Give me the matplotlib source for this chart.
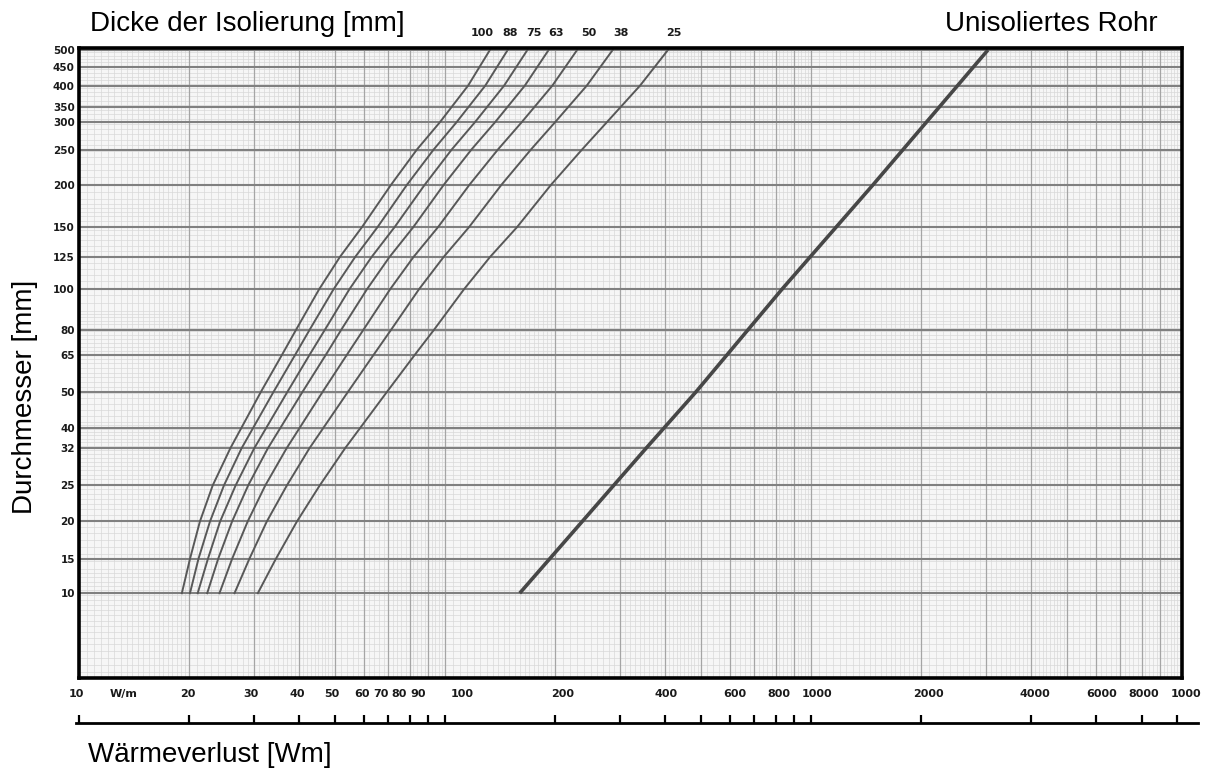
import numpy as np
import matplotlib
matplotlib.use("Agg")
import matplotlib.pyplot as plt
import matplotlib.transforms as mtransforms

# ---------------- data ----------------
# nominal diameters (labels) and their outer diameters in mm (axis positions)
dn_labels = ['10', '15', '20', '25', '32', '40', '50', '65', '80', '100', '125',
             '150', '200', '250', '300', '350', '400', '450', '500']
dn_outer_diam = [17.2, 21.3, 26.9, 33.7, 42.4, 48.3, 60.3, 76.1, 88.9, 114.3, 139.7,
                 168.3, 219.1, 273.0, 323.9, 355.6, 406.4, 457.0, 508.0]

# outer diameters at which the curves were read
curve_od = [17.2, 21.3, 26.9, 33.7, 42.4, 60.3, 76.1, 88.9, 114.3, 139.7, 168.3,
            219.1, 273.0, 323.9, 406.4, 508.0]

thickness_labels = ['100', '88', '75', '63', '50', '38', '25']
loss_t100 = [19.1, 20.1, 21.4, 23.2, 25.9, 31.4, 35.9, 39.2, 45.3, 51.6, 59.3,
             71.2, 83.8, 96.9, 115.6, 132.7]
loss_t88 = [20.1, 21.2, 22.8, 24.9, 27.8, 34.0, 39.0, 42.7, 49.6, 56.8, 65.4,
            78.7, 93.1, 107.6, 128.8, 148.4]
loss_t75 = [21.1, 22.5, 24.3, 26.8, 30.1, 37.1, 42.7, 47.0, 54.8, 63.0, 72.8,
            88.0, 104.3, 120.8, 145.0, 168.0]
loss_t63 = [22.4, 24.0, 26.2, 29.0, 32.8, 40.8, 47.3, 52.1, 61.2, 70.5, 81.9,
            99.2, 118.1, 137.1, 165.2, 192.0]
loss_t50 = [24.2, 26.2, 28.9, 32.3, 36.9, 46.3, 54.0, 59.9, 70.8, 82.0, 95.7,
            116.6, 139.5, 162.1, 196.4, 229.7]
loss_t38 = [26.6, 29.2, 32.6, 37.0, 42.6, 54.3, 63.9, 71.3, 84.9, 99.1, 116.3,
            142.6, 171.7, 200.0, 243.9, 287.3]
loss_t25 = [30.8, 34.5, 39.4, 45.5, 53.3, 69.4, 82.8, 93.4, 112.7, 132.7, 157.3,
            194.8, 236.8, 277.0, 341.0, 406.8]

uninsulated_od = [17.2, 42.4, 60.3, 114.3, 219.1, 508.0]
loss_uninsulated = [160, 354, 485, 833, 1477, 3045]

x_tick_values = [10, 20, 30, 40, 50, 60, 70, 80, 90, 100, 200, 400, 600, 800,
                 1000, 2000, 4000, 6000, 8000, 10000]
x_tick_labels = ['10', '20', '30', '40', '50', '60', '70', '80', '90', '100', '200',
                 '400', '600', '800', '1000', '2000', '4000', '6000', '8000', '1000']
ruler_ticks = [10, 20, 30, 40, 50, 60, 70, 80, 90, 100, 200, 300, 400, 500, 600,
               700, 800, 900, 1000, 2000, 4000, 6000, 8000, 10000]

# ---------------- styling (pixel nudges of hand-placed labels) ----------------
xlabel_nudge_px = [-3, -1, -3, -2, -3, -2, -7, -10, -10, 17, 7, 1, 5, 3, 6, 7, 4, 6, 2, 9]
thick_label_nudge_px = [-8, 2, 6, 7, 12, 8, 6]

# ---------------- figure ----------------
W, H = 1213, 771
fig = plt.figure(figsize=(W / 100, H / 100), dpi=100)
fig.patch.set_facecolor('white')

def fx(px):
    return px / W

def fy(py):
    return 1 - py / H

def px_shift(dx):
    return mtransforms.ScaledTranslation(dx / 100.0, 0, fig.dpi_scale_trans)

ax = fig.add_axes([fx(79), fy(678), fx(1182 - 79), (678 - 48) / H])
ax.set_xscale('log')
ax.set_yscale('log')
ax.set_xlim(10, 10320)
ax.set_ylim(10.14, 514)
ax.set_facecolor('#f6f6f6')

# graph-paper grid
sub = np.concatenate([np.arange(1, 2, 0.05), np.arange(2, 5, 0.1), np.arange(5, 10, 0.2)])
fine_x = np.append(np.concatenate([sub * d for d in (10, 100, 1000)]), 10000)
mid_x = np.concatenate([np.arange(1, 10, 1) * d for d in (10, 100, 1000)])
fine_y = np.concatenate([sub * d for d in (10, 100)])
fine_y = fine_y[fine_y < 514]
ax.vlines(fine_x, 0, 1, transform=ax.get_xaxis_transform(), colors='#d8d8d8', lw=0.5, zorder=1)
ax.hlines(fine_y, 0, 1, transform=ax.get_yaxis_transform(), colors='#d8d8d8', lw=0.5, zorder=1)
ax.vlines(mid_x, 0, 1, transform=ax.get_xaxis_transform(), colors='#a5a5a5', lw=0.9, zorder=1)
ax.hlines(dn_outer_diam, 0, 1, transform=ax.get_yaxis_transform(), colors='#808080', lw=1.5, zorder=2)

# curves
series = [loss_t100, loss_t88, loss_t75, loss_t63, loss_t50, loss_t38, loss_t25]
for vals in series:
    ax.plot(vals, curve_od, color='#585858', lw=1.4, zorder=3)
ax.plot(loss_uninsulated, uninsulated_od, color='#474747', lw=2.6, zorder=3,
        solid_capstyle='butt')

bold = dict(fontweight='bold', family='DejaVu Sans', color='#1a1a1a')

# thickness labels above curve ends
for lab, vals, dx in zip(thickness_labels, series, thick_label_nudge_px):
    ax.text(vals[-1], 1.024, lab, transform=ax.get_xaxis_transform() + px_shift(dx),
            ha='center', va='center', fontsize=8, **bold)

# ticks
ax.set_yticks(dn_outer_diam)
ax.set_yticklabels(dn_labels)
ax.set_xticks(x_tick_values)
ax.set_xticklabels(x_tick_labels)
ax.minorticks_off()
ax.tick_params(axis='both', length=0, colors='#1a1a1a')
ax.tick_params(axis='y', pad=3, labelsize=7.5)
ax.tick_params(axis='x', pad=8, labelsize=8)
for lab in ax.get_xticklabels() + ax.get_yticklabels():
    lab.set_fontweight('bold')
    lab.set_family('DejaVu Sans')
for lab, dx in zip(ax.get_xticklabels(), xlabel_nudge_px):
    lab.set_transform(lab.get_transform() + px_shift(dx))
ax.text(13.2, -0.0254, 'W/m', transform=ax.get_xaxis_transform(), ha='center',
        va='center', fontsize=8, **bold)

for sp in ax.spines.values():
    sp.set_linewidth(2.6)
    sp.set_color('black')
    sp.set_zorder(5)

# bottom ruler
rax = fig.add_axes([fx(76), fy(723), fx(1198 - 76), 0.01])
rax.set_xscale('log')
rax.set_xlim(9.81, 11413)
rax.set_ylim(0, 1)
rax.patch.set_alpha(0)
for side in ('top', 'left', 'right'):
    rax.spines[side].set_visible(False)
rax.spines['bottom'].set_linewidth(2.0)
rax.set_yticks([])
rax.set_xticks(ruler_ticks)
rax.minorticks_off()
rax.set_xticklabels([])
rax.tick_params(axis='x', direction='in', length=6, width=1.6, color='black')

# texts
fig.text(fx(90), fy(24), 'Dicke der Isolierung [mm]', ha='left', va='center',
         fontsize=20, family='Liberation Sans')
fig.text(fx(1051), fy(24), 'Unisoliertes Rohr', ha='center', va='center',
         fontsize=20, family='Liberation Sans')
fig.text(fx(25), fy(397), 'Durchmesser [mm]', ha='center', va='center', rotation=90,
         fontsize=20, family='Liberation Sans')
fig.text(fx(88), fy(755), 'Wärmeverlust [Wm]', ha='left', va='center',
         fontsize=20, family='Liberation Sans')

fig.savefig('out.png', dpi=100)
